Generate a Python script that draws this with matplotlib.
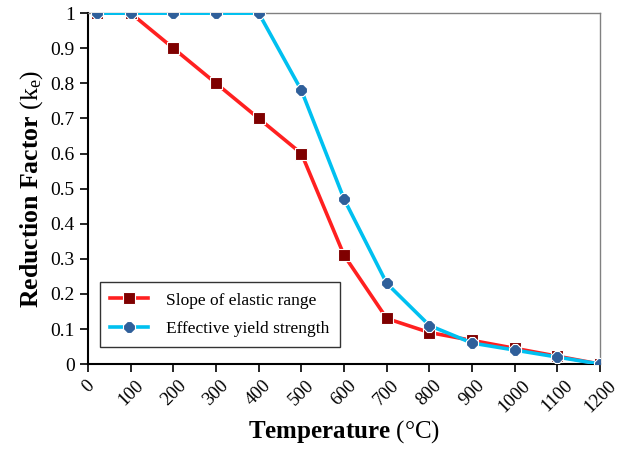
import matplotlib
matplotlib.use("Agg")
import matplotlib.pyplot as plt

temps = [20, 100, 200, 300, 400, 500, 600, 700, 800, 900, 1000, 1100, 1200]
slope_elastic = [1, 1, 0.9, 0.8, 0.7, 0.6, 0.31, 0.13, 0.09, 0.0675, 0.045, 0.0225, 0]
yield_strength = [1, 1, 1, 1, 1, 0.78, 0.47, 0.23, 0.11, 0.06, 0.04, 0.02, 0]
xticks = list(range(0, 1201, 100))
yticks = [round(0.1 * i, 1) for i in range(11)]

plt.rcParams['font.family'] = 'Liberation Serif'
plt.rcParams['mathtext.fontset'] = 'custom'
plt.rcParams['mathtext.rm'] = 'Liberation Serif'
plt.rcParams['mathtext.bf'] = 'Liberation Serif:bold'
plt.rcParams['mathtext.it'] = 'Liberation Serif:italic'

fig = plt.figure(figsize=(6.2, 4.54), dpi=100)
ax = fig.add_axes([0.142, 0.198, 0.826, 0.773])

ax.plot(temps, slope_elastic, color='#ff2020', lw=2.6, marker='s', ms=9,
        mfc='#7f0000', mec='white', mew=0.8, label='Slope of elastic range', zorder=3)
ax.plot(temps, yield_strength, color='#00c0f0', lw=2.6, marker='8', ms=9,
        mfc='#2f5f9a', mec='white', mew=0.8, label='Effective yield strength', zorder=4)

ax.set_xlim(0, 1200)
ax.set_ylim(0, 1)
ax.set_xticks(xticks)
ax.set_xticklabels([str(t) for t in xticks], rotation=45, ha='center', va='top', fontsize=13.5)
ax.set_yticks(yticks)
ax.set_yticklabels(['0' if v == 0 else ('1' if v == 1 else str(v)) for v in yticks], fontsize=14)
ax.tick_params(direction='out', length=6, width=1.2, color='black')

for s in ['left', 'bottom']:
    ax.spines[s].set_color('black')
    ax.spines[s].set_linewidth(1.5)
for s in ['top', 'right']:
    ax.spines[s].set_color('#808080')
    ax.spines[s].set_linewidth(1.0)

ax.set_xlabel(r'$\mathbf{Temperature}$ (°C)', fontsize=18, labelpad=2)
ax.set_ylabel(r'$\mathbf{Reduction\ Factor}$ (k$_{\mathrm{e}}$)', fontsize=18.5, labelpad=4)

leg = ax.legend(loc='lower left', bbox_to_anchor=(0.023, 0.048), borderaxespad=0,
                fontsize=12.5, frameon=True, fancybox=False, edgecolor='black',
                borderpad=0.6, labelspacing=0.7, handlelength=2.2, handletextpad=1.0)
leg.get_frame().set_linewidth(1.0)

fig.savefig('out.png', dpi=100)
